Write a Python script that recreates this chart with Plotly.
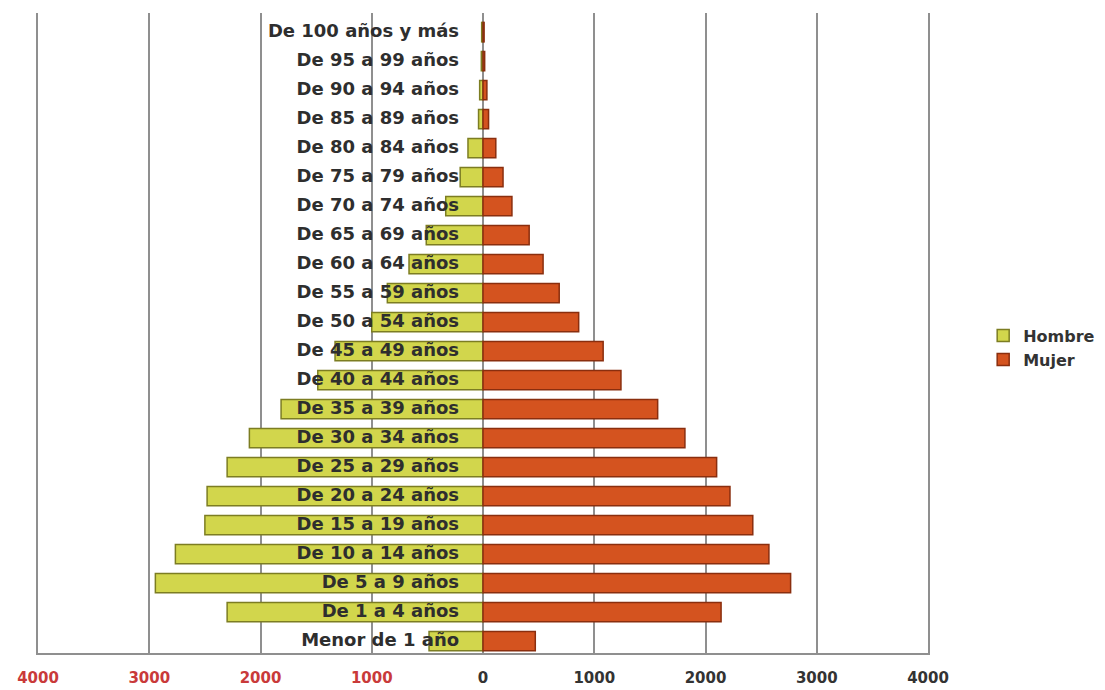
import plotly.graph_objects as go

# Age groups, bottom to top
categorias = [
    "Menor de 1 año", "De 1 a 4 años", "De 5 a 9 años", "De 10 a 14 años",
    "De 15 a 19 años", "De 20 a 24 años", "De 25 a 29 años", "De 30 a 34 años",
    "De 35 a 39 años", "De 40 a 44 años", "De 45 a 49 años", "De 50 a 54 años",
    "De 55 a 59 años", "De 60 a 64 años", "De 65 a 69 años", "De 70 a 74 años",
    "De 75 a 79 años", "De 80 a 84 años", "De 85 a 89 años", "De 90 a 94 años",
    "De 95 a 99 años", "De 100 años y más",
]
hombre = [485, 2300, 2945, 2765, 2500, 2480, 2300, 2100, 1815, 1485, 1330, 1000,
          860, 665, 510, 335, 205, 135, 40, 30, 15, 12]
mujer = [470, 2140, 2765, 2570, 2425, 2220, 2100, 1815, 1570, 1240, 1080, 860,
         685, 540, 415, 260, 180, 115, 50, 35, 15, 10]

tick_vals = [-4000, -3000, -2000, -1000, 0, 1000, 2000, 3000, 4000]
tick_labels = ["4000", "3000", "2000", "1000", "0", "1000", "2000", "3000", "4000"]

RED = "#c93a3a"
DARK = "#333333"
ticktext = []
for v, t in zip(tick_vals, tick_labels):
    if v < 0:
        ticktext.append(f"<span style='color:{RED}'>{t}</span>")
    else:
        ticktext.append(t)

fig = go.Figure()
fig.add_trace(go.Bar(
    y=categorias, x=[-v for v in hombre], orientation="h", name="Hombre",
    marker=dict(color="#d2d64c", line=dict(color="#7c7d22", width=1.5)),
))
fig.add_trace(go.Bar(
    y=categorias, x=mujer, orientation="h", name="Mujer",
    marker=dict(color="#d4531f", line=dict(color="#8a2e0e", width=1.5)),
))
label_x = -215
fig.add_trace(go.Scatter(
    y=categorias, x=[label_x] * len(categorias), mode="text",
    text=categorias, textposition="middle left",
    textfont=dict(family="DejaVu Sans", size=18, color="#2e2e2e", weight="bold"),
    showlegend=False, hoverinfo="skip",
))

GRID = "#8f8f8f"
fig.update_layout(
    width=1097, height=682,
    margin=dict(l=30, r=177, t=5, b=37),
    paper_bgcolor="white", plot_bgcolor="white",
    barmode="overlay", bargap=0.33,
    font=dict(family="DejaVu Sans", color=DARK),
    legend=dict(
        x=1.062, y=0.477, xanchor="left", yanchor="middle",
        font=dict(family="DejaVu Sans", size=16, color=DARK, weight="bold"),
        traceorder="normal", itemwidth=30,
    ),
    xaxis=dict(
        range=[-4000, 4000], tickvals=tick_vals, ticktext=ticktext,
        showgrid=True, gridcolor=GRID, gridwidth=1.5,
        zeroline=True, zerolinecolor=GRID, zerolinewidth=1.5,
        showline=True, linecolor=GRID, linewidth=1.5, mirror=False,
        ticks="outside", ticklen=10, tickcolor="rgba(0,0,0,0)",
        tickfont=dict(family="DejaVu Sans", size=15, color=DARK, weight="bold"),
        ticklabeloverflow="allow",
        fixedrange=True, automargin=False,
    ),
    yaxis=dict(
        categoryorder="array", categoryarray=categorias,
        range=[-0.41, 21.66], showticklabels=False, showgrid=False,
        zeroline=False, showline=True, mirror=True, linecolor=GRID, linewidth=1.5,
        ticks="", fixedrange=True, automargin=False,
    ),
)

fig.write_html("out.html")
